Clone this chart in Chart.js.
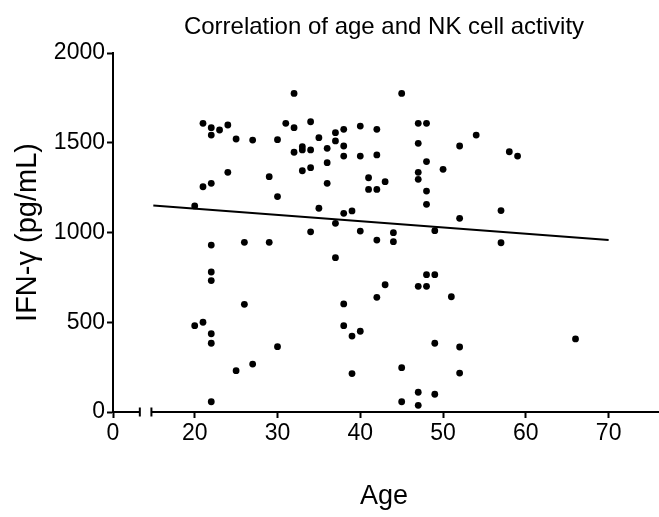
<!DOCTYPE html>
<html><head><meta charset="utf-8">
<script src="https://cdn.jsdelivr.net/npm/chart.js@4.4.0/dist/chart.umd.min.js"></script>
<style>html,body{margin:0;padding:0;background:#fff;}#wrap{width:659px;height:517px;}</style>
</head><body><div id="wrap"><canvas id="c" width="659" height="517"></canvas></div>
<script>
// ---- data ----
const ages = [
  32,21,22,22,23,24,25,27,30,31,32,34,35,32,33,33,34,33,34,24,21,22,29,30,20,35,34,22,26,29,
  45,37,38,40,42,37,38,36,38,40,42,36,36,41,41,42,43,47,48,47,48,47,47,48,48,50,52,54,37,38,39,40,42,44,44,49,52,37,
  22,22,26,20,21,22,22,30,27,25,22,
  38,38,39,40,42,43,47,48,48,49,51,49,52,39,45,52,47,49,45,47,
  58,59,57,57,66
];
const ifnGamma = [
  1775,1608,1584,1543,1571,1599,1521,1515,1517,1608,1584,1617,1528,1447,1478,1460,1460,1344,1361,1335,1255,1274,1311,1200,1148,1135,1004,930,945,945,
  1775,1556,1575,1593,1575,1510,1482,1469,1426,1426,1432,1389,1274,1305,1240,1240,1283,1608,1608,1497,1395,1335,1296,1231,1157,1352,1482,1543,1051,1107,1120,1008,958,999,949,1010,1079,860,
  780,732,600,481,500,436,383,364,267,230,57,
  602,481,423,450,639,709,700,700,765,765,642,383,362,214,247,217,110,99,57,37,
  1450,1426,1122,943,407
];
const fitAges = [15, 70];
const fitIfn = [1150, 958];
const xTickValues = [0, 20, 30, 40, 50, 60, 70];
const yTickValues = [0, 500, 1000, 1500, 2000];

const titleText = 'Correlation of age and NK cell activity';
const xTitle = 'Age';
const yTitle = 'IFN-\u03b3 (pg/mL)';

// ---- broken x axis: the "0" piece is drawn just left of the 15+ piece ----
const X_ZERO_AT = 10.13;   // scale position where the broken "0" segment starts
const X_BREAK_A = 13.37;   // end of first piece
const X_BREAK_B = 14.77;   // start of second piece
const X_MAX = 75.6;
const toScaleX = v => (v === 0 ? X_ZERO_AT : v);

const FONT = "'Liberation Sans', Arial, Helvetica, sans-serif";

const brokenAxis = {
  id: 'brokenAxis',
  afterDraw(chart) {
    const xs = chart.scales.x, ys = chart.scales.y, ctx = chart.ctx;
    const yb = ys.getPixelForValue(0);
    ctx.save();
    ctx.strokeStyle = '#000';
    ctx.lineWidth = 2;
    const seg = (a, b) => {
      ctx.beginPath();
      ctx.moveTo(xs.getPixelForValue(a), yb);
      ctx.lineTo(xs.getPixelForValue(b), yb);
      ctx.stroke();
    };
    seg(X_ZERO_AT, X_BREAK_A);
    seg(X_BREAK_B, X_MAX + 1);
    [X_BREAK_A, X_BREAK_B].forEach(v => {
      const p = xs.getPixelForValue(v);
      ctx.beginPath();
      ctx.moveTo(p, yb - 4.5);
      ctx.lineTo(p, yb + 4.5);
      ctx.stroke();
    });
    ctx.restore();
  }
};

// title centred over the plotting area
const plotTitle = {
  id: 'plotTitle',
  afterDraw(chart) {
    const { ctx, chartArea } = chart;
    ctx.save();
    ctx.fillStyle = '#000';
    ctx.font = '24px ' + FONT;
    ctx.textAlign = 'center';
    ctx.textBaseline = 'middle';
    ctx.fillText(titleText, (chartArea.left + chartArea.right) / 2, 27);
    ctx.restore();
  }
};

new Chart(document.getElementById('c'), {
  type: 'scatter',
  data: {
    datasets: [
      {
        type: 'line',
        data: fitAges.map((a, i) => ({ x: a, y: fitIfn[i] })),
        borderColor: '#000',
        borderWidth: 2,
        pointRadius: 0,
        fill: false
      },
      {
        data: ages.map((a, i) => ({ x: a, y: ifnGamma[i] })),
        backgroundColor: '#000',
        borderColor: '#000',
        borderWidth: 0,
        pointRadius: 3.4
      }
    ]
  },
  options: {
    responsive: false,
    animation: false,
    events: [],
    layout: { padding: { top: 53, left: 0, right: 0, bottom: 0 } },
    plugins: {
      legend: { display: false },
      tooltip: { enabled: false },
      title: { display: false }
    },
    scales: {
      x: {
        type: 'linear',
        min: X_ZERO_AT,
        max: X_MAX,
        afterBuildTicks: s => { s.ticks = xTickValues.map(v => ({ value: toScaleX(v) })); },
        ticks: {
          callback: (v, i) => String(xTickValues[i]),
          color: '#000',
          font: { family: FONT, size: 23 },
          padding: 2,
          maxRotation: 0,
          autoSkip: false
        },
        grid: { display: true, drawOnChartArea: false, drawTicks: true, tickLength: 6, tickWidth: 2, tickColor: '#000' },
        border: { display: false },
        title: {
          display: true, text: xTitle, color: '#000',
          font: { family: FONT, size: 27 },
          padding: { top: 0, bottom: 4 }
        },
        afterFit: s => { s.height = 105; }
      },
      y: {
        type: 'linear',
        min: 0,
        max: 2000,
        afterBuildTicks: s => { s.ticks = yTickValues.map(v => ({ value: v })); },
        ticks: {
          callback: v => String(v),
          color: '#000',
          font: { family: FONT, size: 23 },
          padding: 2
        },
        grid: { display: true, drawOnChartArea: false, drawTicks: true, tickLength: 6, tickWidth: 2, tickColor: '#000' },
        border: { display: true, color: '#000', width: 2 },
        title: {
          display: true, text: yTitle, color: '#000',
          font: { family: FONT, size: 29 },
          padding: { top: 11, bottom: 0 }
        },
        afterFit: s => { s.width = 113; }
      }
    }
  },
  plugins: [brokenAxis, plotTitle]
});
</script>
</body></html>
